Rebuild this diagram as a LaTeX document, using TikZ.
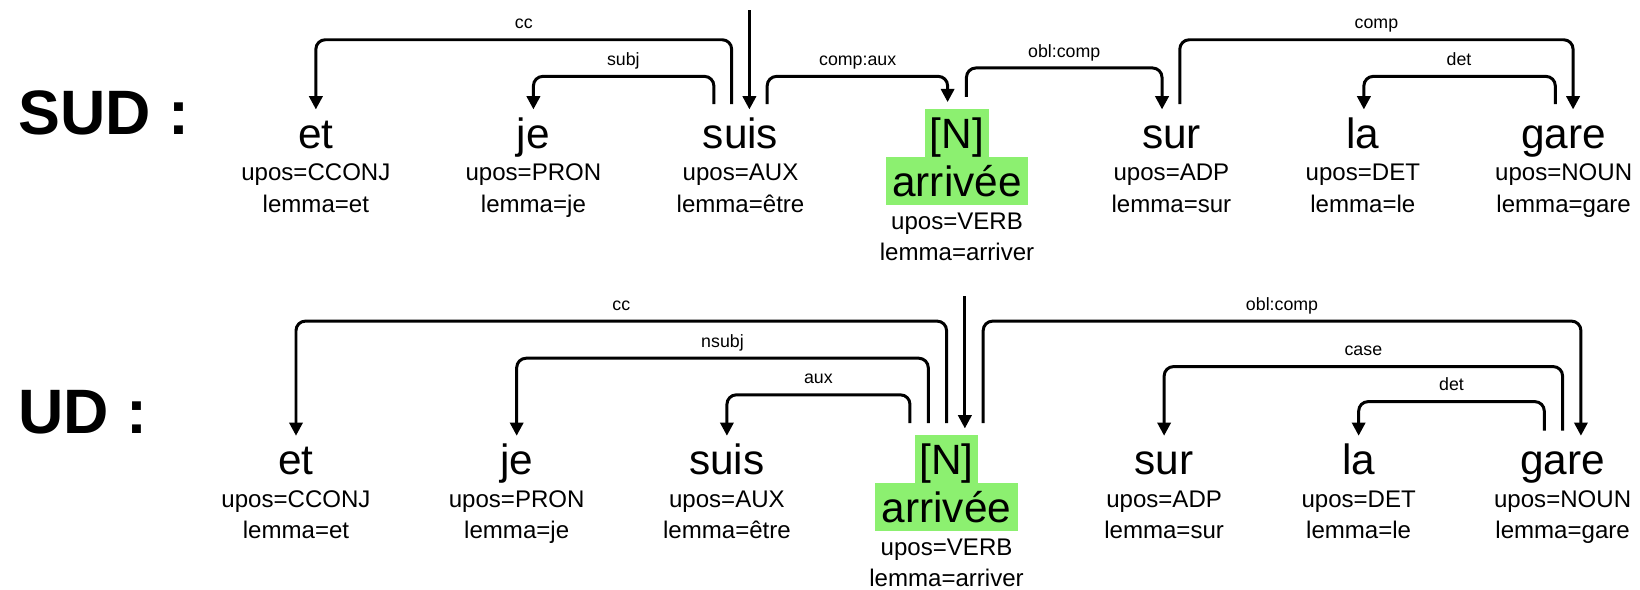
\documentclass[tikz,border=0pt]{standalone}
\usepackage{fontspec}
\setmainfont{Liberation Sans}
\usetikzlibrary{arrows.meta,calc}
\definecolor{hl}{RGB}{140,240,112}
\begin{document}
\begin{tikzpicture}[x=0.5pt,y=-0.5pt,
  word/.style={anchor=base,inner sep=0pt,text height=15.5pt,text depth=4pt,font=\fontsize{20.25}{22}\selectfont},
  hlword/.style={anchor=base,inner sep=0pt,text height=19pt,text depth=4pt,fill=hl,font=\fontsize{20.25}{22}\selectfont},
  attr/.style={anchor=base,inner sep=0pt,font=\fontsize{11.5}{13}\selectfont},
  lbl/.style={anchor=base,inner sep=0pt,yshift=5.25pt,font=\fontsize{8.5}{10}\selectfont},
  title/.style={anchor=base west,inner sep=0pt,font=\fontsize{30}{32}\selectfont\bfseries},
  dep/.style={line width=1.43pt,rounded corners=4.5pt,-{Triangle[length=6.3pt,width=6.3pt]}},
]
\useasboundingbox (0,0) rectangle (1568,564);

% ---------- SUD ----------
\node[title] (sudt) at (17,129) {SUD :};
\node[word] (set) at (302,142) {et};
\node[word] (sje) at (510,142) {je};
\node[word] (ssuis) at (708,142) {suis};
\node[hlword,minimum width=30.5pt] (sN) at (915,142) {[N]};
\node[hlword,minimum width=68pt] (sarr) at (915,188) {arrivée};
\node[word] (ssur) at (1120,142) {sur};
\node[word] (sla) at (1303,142) {la};
\node[word] (sgare) at (1495,142) {gare};

\node[attr] (setu) at (302,173) {upos=CCONJ};
\node[attr] (setl) at (302,203) {lemma=et};
\node[attr] (sjeu) at (510,173) {upos=PRON};
\node[attr] (sjel) at (510,203) {lemma=je};
\node[attr] (ssuisu) at (708,173) {upos=AUX};
\node[attr] (ssuisl) at (708,203) {lemma=être};
\node[attr] (sarru) at (915,219) {upos=VERB};
\node[attr] (sarrl) at (915,249) {lemma=arriver};
\node[attr] (ssuru) at (1120,173) {upos=ADP};
\node[attr] (ssurl) at (1120,203) {lemma=sur};
\node[attr] (slau) at (1303,173) {upos=DET};
\node[attr] (slal) at (1303,203) {lemma=le};
\node[attr] (sgareu) at (1495,173) {upos=NOUN};
\node[attr] (sgarel) at (1495,203) {lemma=gare};

\coordinate (sroot) at (716.5,10);
\draw[dep] (sroot) -- ($(ssuis.north)+(8.5,-6)$);
\draw[dep] ($(ssuis.north)+(-8.5,-11)$) |- (500.75,38) node[lbl]{cc} -| ($(set.north)+(0,-6)$);
\draw[dep] ($(ssuis.north)+(-25.5,-11)$) |- (596,73) node[lbl]{subj} -| ($(sje.north)+(0,-6)$);
\draw[dep] ($(ssuis.north)+(25.5,-11)$) |- (820,73) node[lbl]{comp:aux} -| ($(sN.north)+(-9,-6)$);
\draw[dep] ($(sN.north)+(9,-11)$) |- (1017.5,65) node[lbl]{obl:comp} -| ($(ssur.north)+(-9,-6)$);
\draw[dep] ($(ssur.north)+(8,-11)$) |- (1316,38) node[lbl]{comp} -| ($(sgare.north)+(9,-6)$);
\draw[dep] ($(sgare.north)+(-8,-11)$) |- (1395,73) node[lbl]{det} -| ($(sla.north)+(1,-6)$);

% ---------- UD ----------
\node[title] (udt) at (17,414) {UD :};
\node[word] (uet) at (283,454) {et};
\node[word] (uje) at (494,454) {je};
\node[word] (usuis) at (695,454) {suis};
\node[hlword,minimum width=30.5pt] (uN) at (905,454) {[N]};
\node[hlword,minimum width=68pt] (uarr) at (905,500) {arrivée};
\node[word] (usur) at (1113,454) {sur};
\node[word] (ula) at (1299,454) {la};
\node[word] (ugare) at (1494,454) {gare};

\node[attr] (ueta) at (283,485) {upos=CCONJ};
\node[attr] (uetb) at (283,515) {lemma=et};
\node[attr] (ujea) at (494,485) {upos=PRON};
\node[attr] (ujeb) at (494,515) {lemma=je};
\node[attr] (usuisa) at (695,485) {upos=AUX};
\node[attr] (usuisb) at (695,515) {lemma=être};
\node[attr] (uarra) at (905,531) {upos=VERB};
\node[attr] (uarrb) at (905,561) {lemma=arriver};
\node[attr] (usura) at (1113,485) {upos=ADP};
\node[attr] (usurb) at (1113,515) {lemma=sur};
\node[attr] (ulaa) at (1299,485) {upos=DET};
\node[attr] (ulab) at (1299,515) {lemma=le};
\node[attr] (ugarea) at (1494,485) {upos=NOUN};
\node[attr] (ugareb) at (1494,515) {lemma=gare};

\coordinate (uroot) at (922.5,283);
\draw[dep] (uroot) -- ($(uN.north)+(17.5,-6)$);
\draw[dep] ($(uN.north)+(0,-11)$) |- (594,307) node[lbl]{cc} -| ($(uet.north)+(0,-6)$);
\draw[dep] ($(uN.north)+(-17.5,-11)$) |- (690.75,342.5) node[lbl]{nsubj} -| ($(uje.north)+(0,-6)$);
\draw[dep] ($(uN.north)+(-35,-11)$) |- (782.5,377.5) node[lbl]{aux} -| ($(usuis.north)+(0,-6)$);
\draw[dep] ($(uN.north)+(35,-11)$) |- (1225.75,307) node[lbl]{obl:comp} -| ($(ugare.north)+(17.5,-6)$);
\draw[dep] ($(ugare.north)+(0,-11)$) |- (1303.5,350.5) node[lbl]{case} -| ($(usur.north)+(0,-6)$);
\draw[dep] ($(ugare.north)+(-17.5,-11)$) |- (1387.75,384) node[lbl]{det} -| ($(ula.north)+(0,-6)$);
\end{tikzpicture}
\end{document}
